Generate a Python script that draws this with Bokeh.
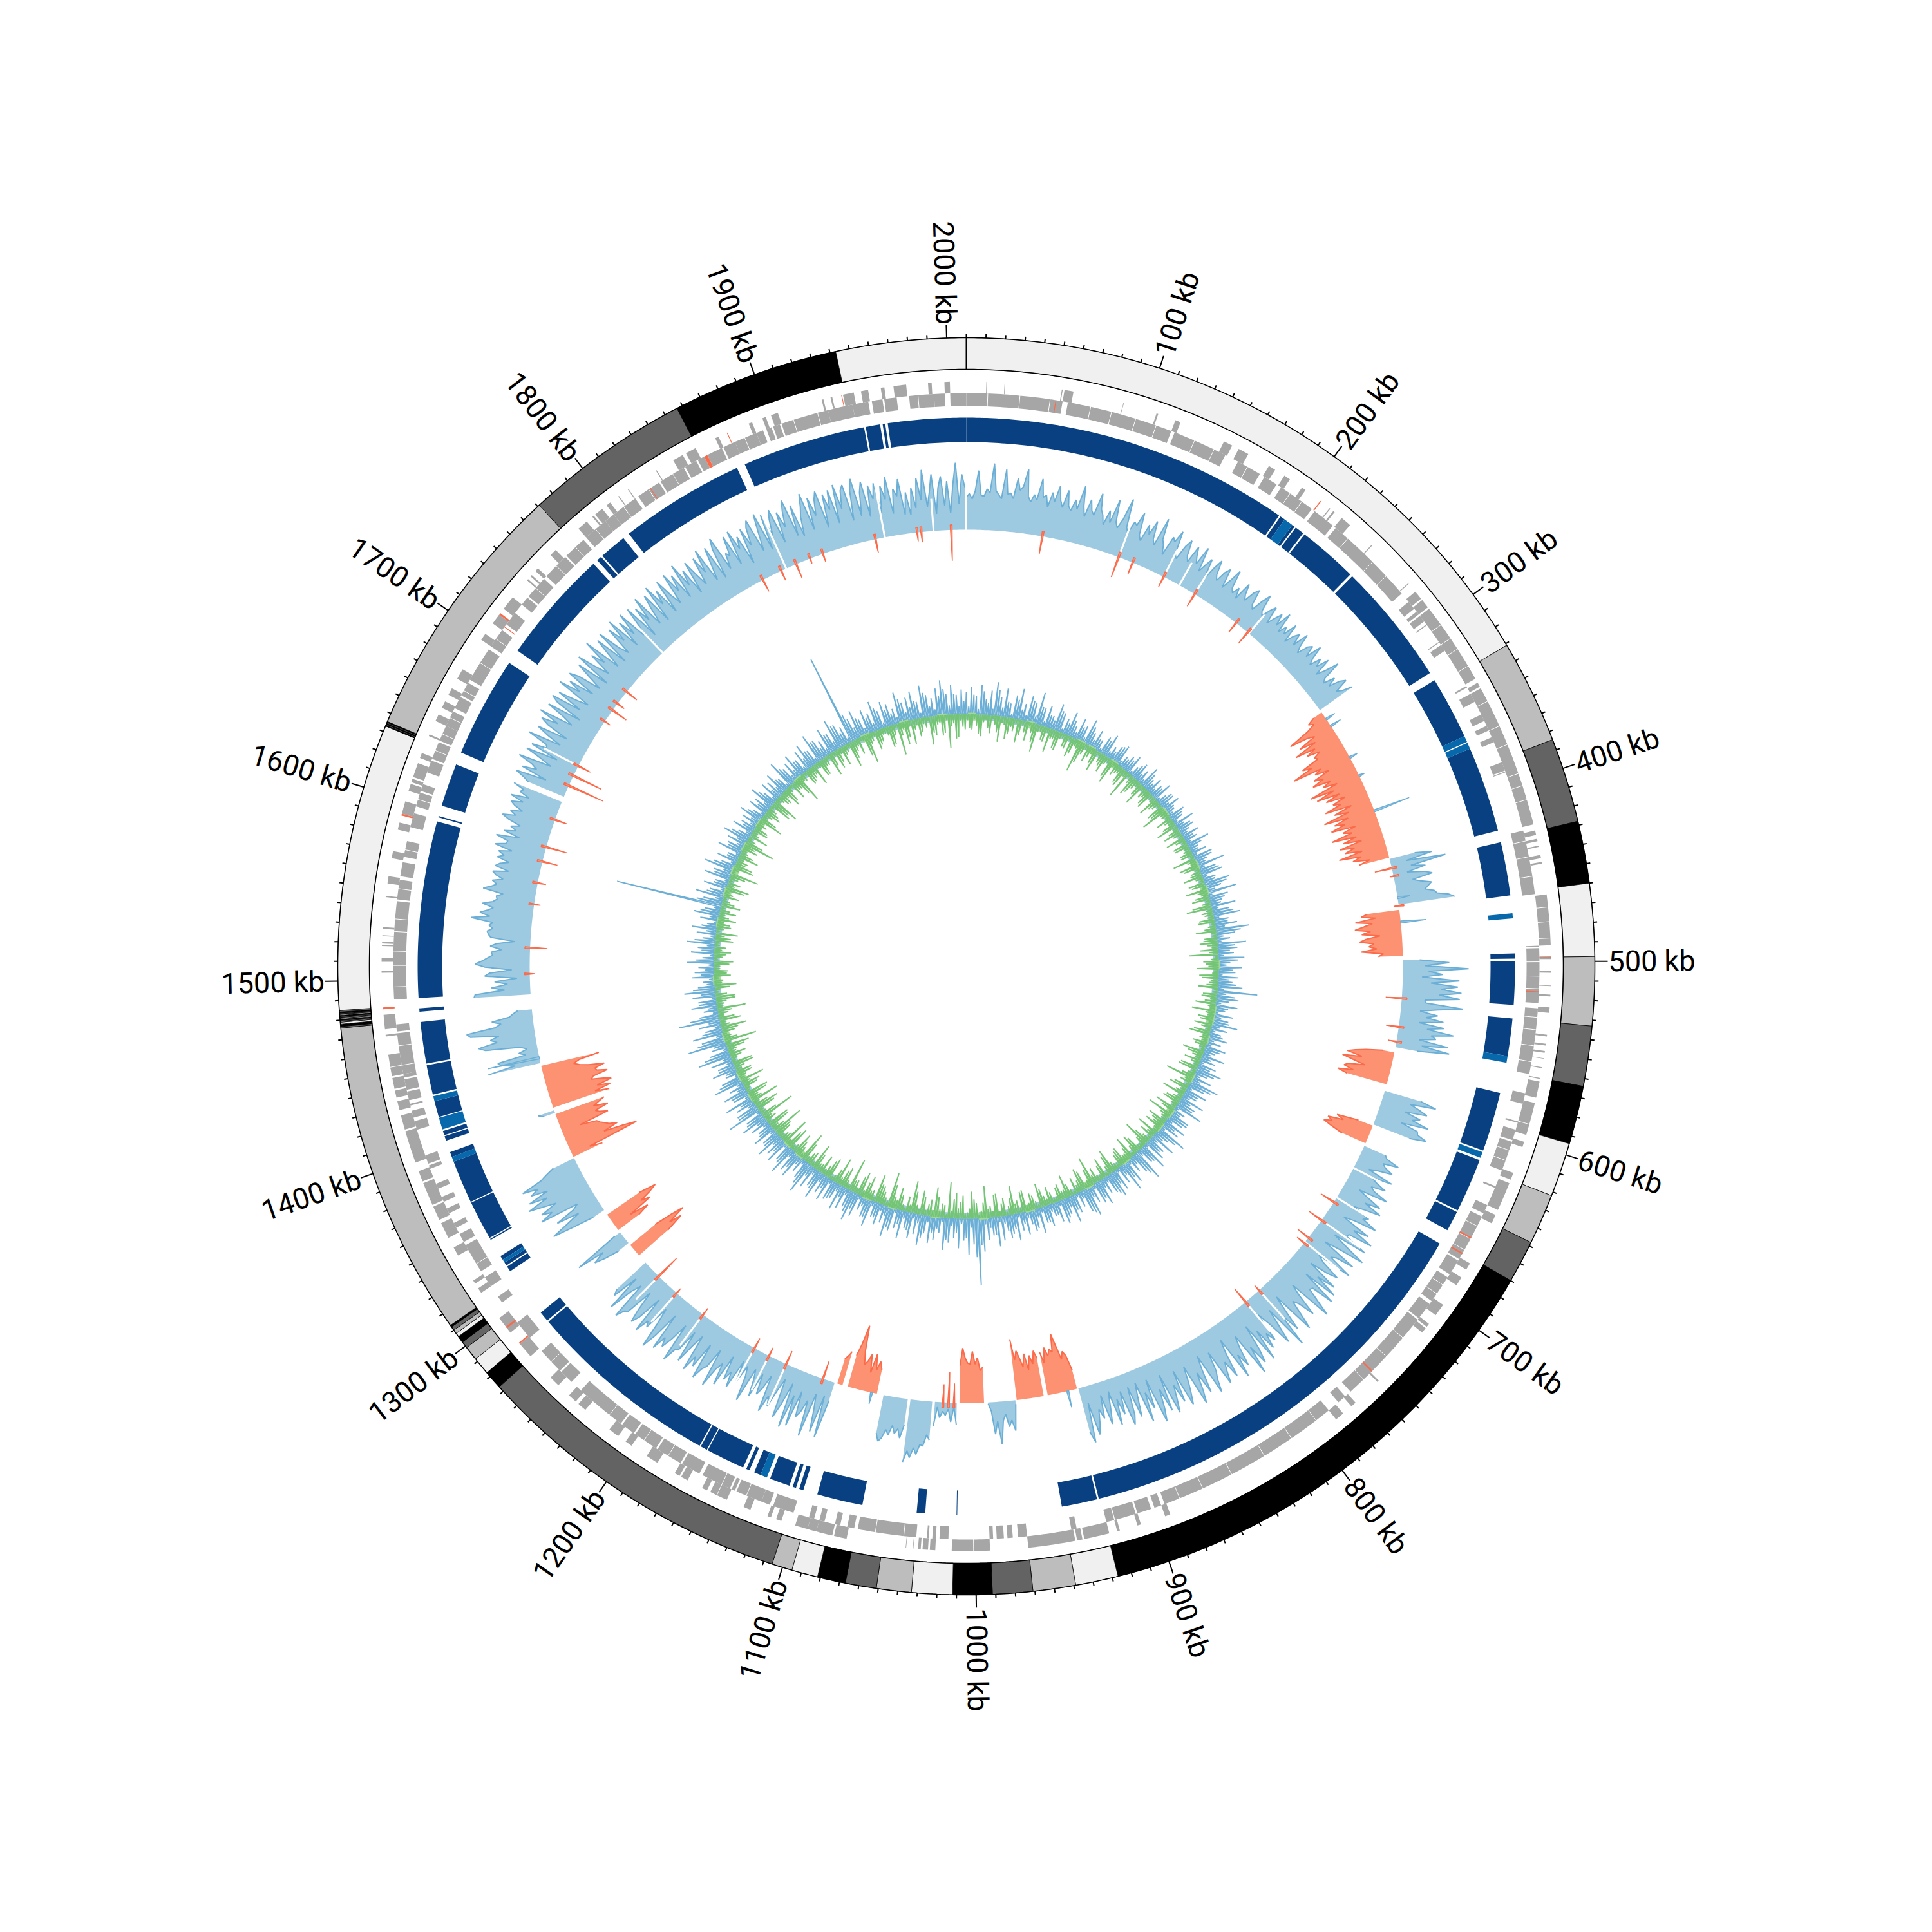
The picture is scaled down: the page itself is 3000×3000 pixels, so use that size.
import math
from bokeh.plotting import figure
from bokeh.models import Range1d
from bokeh.core.properties import value
from bokeh.embed import file_html
from bokeh.resources import INLINE

GENOME_KB = 2010
CX, CY = 1508, 1508

# ---- karyotype bands ----
band_start = [0,331,384.5,428,460,497.5,533,564,594,622,648,670,927,949,971,991.7,1012,1033,1051,1067,1081.5,1095,1105.5,1273,1282.6,1291.6,1299,1302.5,1306,1308,1310,1312,1313,
              1476,1476.8,1478,1479,1479.5,1480,1480.5,1481,1481.5,1482,1482.5,1483,1483.3,1483.7,1484.2,1485,1633,1633.5,1634,1634.5,1635,1635.5,1771,1857,1943]
band_end = band_start[1:] + [2010]
band_color = ["#f0f0f0","#bdbdbd","#636363","#000000","#f0f0f0","#bdbdbd","#636363","#000000","#f0f0f0","#bdbdbd","#636363","#000000","#f0f0f0","#bdbdbd","#636363","#000000","#f0f0f0","#bdbdbd","#636363","#000000","#f0f0f0","#bdbdbd","#636363","#000000","#f0f0f0","#bdbdbd","#636363","#000000","#f0f0f0","#bdbdbd","#636363","#000000","#bdbdbd",
              "#636363","#000000","#f0f0f0","#bdbdbd","#636363","#000000","#f0f0f0","#bdbdbd","#636363","#000000","#f0f0f0","#bdbdbd","#636363","#000000","#636363","#f0f0f0","#000000","#636363","#000000","#636363","#000000","#bdbdbd","#636363","#000000","#f0f0f0"]

# ---- gene tracks ----
gene_in = [(0,54),(57,117),(119,150),(158,172),(175,183),(186,207),(209,222),(224,276),(282,287),(289,291),(292,296),(298,298.6),(310,310.5),(312,316),(339,340),(344,349),(357,361),(364,367),(371,374),(386,391),(391.5,392),(426,462),(491,491.5),(492.3,523),(526,563),(574,580),(590,591),(595,601),(602,619),(628.5,629.5),(640,645),(647,674),(675,684),(686,702),(704,714),(715,770),(774,779),(786,892),(894,898),(900,908),(909,921),(921.5,926),(943,946),(971,976),(979,982),(984,988),(990,992),(1015,1020),(1022,1024),(1026,1027),(1033,1066),(1068,1072),(1076,1079),(1085,1088),(1091,1094),(1103,1115),(1117,1122),(1122,1137),(1138,1140),(1141,1158),(1160,1171),(1172,1187),(1188,1202),(1203,1211),(1212,1241),(1248,1256),(1257,1272),(1282,1293),(1307,1311),(1318,1324),(1328,1345),(1347,1352),(1356,1359),(1365,1368),(1372,1375),(1380,1383),(1392,1394),(1395,1400),(1415,1420),(1422,1426),(1429,1430),(1432,1437),(1438,1444),(1445,1447),(1447,1470),(1471,1475),(1489,1544),(1545,1556),(1558,1566),(1569,1578),(1586,1594),(1598,1606),(1607,1611),(1618,1625),(1626,1636),(1637,1646),(1646,1655),(1657,1664),(1665,1673),(1675,1695),(1697,1708),(1712,1720),(1726,1731),(1732,1745),(1747,1762),(1763,1776),(1778,1792),(1792,1798),(1798,1813),(1815,1829),(1830,1845),(1846,1853),(1854,1858),(1860,1869),(1870,1877),(1877,1890),(1890,1894),(1896,1899),(1900,1904),(1905,1932),(1932,1946),(1946,1955),(1957,1963),(1964,1971),(1978,1992),(1992,1998),(2001,2010)]
gene_out = [(11,11.4),(21,21.3),(54,59),(52.5,53),(87,87.3),(106,107),(117,120),(146,151),(155,161),(174,178),(184,187.6),(195.6,198),(214.4,215),(217,218),(223,229),(245,245.5),(274,274.5),(280,285),(286,291),(292,338),(340.5,343),(344,424),(427.5,430),(432,433.5),(436,436.7),(441,443),(445,446),(463,491),(497,498.5),(505,506),(513,513.3),(518,519),(525,528),(540,541),(545,546),(549,550),(553,553.3),(558,558.5),(564,564.5),(566,575),(578,596),(600,603),(618,622),(624,640),(643,648),(673,677),(682,687),(700,707),(713,715),(716,719),(754.5,755.5),(772,775),(781,786),(891,894),(908,910),(920,921.5),(926,940),(941,944),(945,971),(992,1013),(1022,1025),(1026,1029),(1030,1031.5),(1034,1034.3),(1038,1038.3),(1071,1078),(1079,1088),(1088,1093),(1093,1100),(1108,1111),(1114,1116),(1126,1130),(1140,1150),(1152,1155),(1164,1168),(1169,1172),(1183,1190),(1200,1204),(1209,1215),(1232,1237),(1239,1244),(1252,1258),(1274,1283),(1291,1301),(1318,1321),(1324,1326),(1342,1347),(1353,1362),(1364,1372),(1373,1386),(1387,1393),(1398,1416),(1417,1425),(1428,1433),(1435,1439),(1440,1446),(1447,1452),(1451,1459),(1469,1470),(1473,1481),(1504,1505),(1510,1512),(1518.6,1519.2),(1520,1521),(1524,1524.5),(1528,1529),(1545.5,1546.2),(1553,1557),(1567,1571),(1583,1587),(1592,1599),(1605,1609),(1610,1612),(1613,1621),(1624,1627),(1637,1638),(1646,1650),(1654,1658),(1662,1666),(1672,1678),(1697,1701),(1708,1714),(1718,1726),(1738,1739),(1741,1742),(1745,1747),(1757,1761),(1778,1784),(1788,1789),(1790,1795),(1798,1800.5),(1806,1806.5),(1812.5,1813),(1831,1831.5),(1842,1848),(1850,1856),(1868,1870),(1888,1890),(1896,1898),(1901,1905),(1930,1931),(1935,1936),(1942,1948),(1952,1956),(1963,1965),(1970,1977),(1989,1991),(1998,2001)]
gene_red_in = [(50,50.4),(516.5,517),(660,660.8),(670,670.8),(753,753.8),(1858,1860),(1710,1710.5),(1823,1823.4)]
gene_red_out = [(208,208.6),(497.5,498),(1283,1283.8),(1294,1295),(1484,1485),(1591,1592),(1714,1715),(1875,1875.4),(1941,1941.4)]
gene_white = [12,30,47,70,82,96,108,131,143,164,192,200,233,252,263,303,312,319,330,352,367,378,395,402,410,432,441,452,470,478,487,500,508,515,531,538,547,556,590,607,613,653,661,668,691,697,728,742,760,795,812,830,851,869,883,1001,1040,1056,1131,1146,1180,1196,1220,1264,1333,1452,1463,1496,1508,1516,1527,1534,1551,1573,1602,1631,1641,1651,1668,1686,1702,1738,1755,1770,1785,1805,1822,1838,1883,1912,1926,1983]

# ---- contig ring ----
ring_dark = [(0,194),(195,198),(203.5,205.2),(206,211.5),(212.5,248),(249.5,322),(327,364),(372,422.5),(429.5,461),(495,498),(499.5,525),(533,555),(577,612),(618,650),(651,663),(672,927),(928,949),(1010.3,1010.7),(1029,1034),(1066,1093),(1101.5,1104),(1106,1108),(1110,1122),(1128,1132),(1135,1137),(1139,1162),(1162.6,1166.6),(1167.4,1282),(1283,1289),(1319,1322.3),(1323,1325),(1327,1329.5),(1340.5,1341.2),(1341.8,1365),(1365.6,1391),(1394,1397),(1404,1406.8),(1407.4,1410),(1418.5,1428),(1432,1449.5),(1450.5,1475),(1481,1483),(1489,1593),(1595.5,1596.3),(1602.6,1628),(1635.5,1695),(1703.6,1771),(1774,1777),(1778,1794),(1798,1872),(1877,1950),(1951,1959.5),(1961,1962.5),(1964,2010)]
ring_light = [(198,203.5),(364,367.7),(368.3,372),(471.5,474.5),(555,559),(613,616.5),(1124,1128),(1325,1327),(1391,1394),(1411,1418),(1428,1431)]

# ---- coverage track: heights from the base circle, one sample per 2 kb ----
cov_0 = [50,56,48,60,92,54,52,64,58,104,62,56,50,96,58,60,52,84,66,72,100,58,50,62,54,88,60,64,46,70,56,82,60,50,78,54,48,66,52,90,60,44,72,56,50,86,62,54,40,64,
         46,84,50,42,58,92,48,40,60,56,78,44,36,64,50,74,46,38,84,52,44,30,62,56,76,40,34,58,70,46,38,66,52,42,72,34,48,60,28,50,66,44,36,54,62,32,48,68,40,34,
         46,30,60,44,36,54,62,38,32,52,66,40,34,48,58,30,44,56,38,64,32,46,36,58,28,44,52,34,60,40,30,48,54,36,62,42,32,50,38,58,30,44,66,36,30,48,34,52,60,38,46,62]
red_304 = [15,28,20,36,70,42,30,60,34,72,40,56,36,48,44,74,60,93,48,60,38,66,52,72,44,58,36,83,46,76,40,64,34,56,44,72,30,60,38,80,42,66,50,74,36,58,44,78,40,62,34,70,48,64,38,76,42,56,30,48]
cov_423 = [40,66,24,86,30,52,22,48,60,28,40,56,50,44,58,62,80,88]
red_461 = [50,60,38,70,44,58,72,48,62,34,56,66,44,52,40,64,30,38]
cov_498 = [26,72,34,102,40,62,30,88,44,86,60,92,58,90,36,38,96,58,30,58,40,68,30,70,44,86,52,60,34,80,40,84,34]
red_566 = [18,44,60,72,48,78,60,40,66,72,56,80,64]
cov_595 = [58,84,44,60,74,40,66,54,82,40,68,70,86,60]
red_622 = [24,58,46,70,62,74,60,40]
cov_638 = [36,40,62,38,44,58,36,22,64,32,
           42,60,38,46,70,24,44,66,42,72,
           48,30,60,52,78,44,26,74,50,86,
           48,46,84,30,56,90,52,24,82,54,
           46,86,30,42,74,58,28,80,50,88,
           34,92,56,54,76,100,30,50,84,58,
           48,72,96,26,52,84,50,106,34,62,
           90,50,28,74,58,82,46,96,30,70,
           92,60,104,32,50,80,58,94,24,46,
           84,56,70,88,30,60,72,92,26,50,
           84,48,76,96,30,54,72,88,28,78,
           48,70,90,24,82,44,74,94,22,68,
           40,86,20,44,72,22,66,80,24,60,
           34,74,18,44,68,20,56,40,62,78,
           26,88,70]
red_923 = [30,54,62,50,72,92,64,70,60,74,50,68]
red_948 = [60,72,52,66,44,70,50,64,76,62,95]
cov_969 = [6,47,30,40,20,30,66,30,50,14,2]
red_992 = [55,50,70,60,80,60,62,70,85,58]
cov_1012 = [34,6,30,10,20,14,24,8,38]
cov_1030 = [60,52,70,68,84,74,90,80,98]
cov_1048 = [40,62,48,56,44,60,52,66,72,60]
red_1071 = [38,50,36,60,30,58,46,40,60,100,70,50]
red_1097 = [54,46,40]
cov_1103 = [30,90,24,84,50,26,96,40,60,70,
            30,88,40,94,24,60,84,22,42,72,
            56,84,26,50,62,30,70,44,28,84,
            46,30,60,26,74,50,66,28,80,46,
            58,90,30,62,70,88,32,74,60,86,
            28,50,80,30,66,70,92,30,60,78,
            64,88,28,72,96,56,30,70,62,84,
            26,66,80,58,28,72,76,90,30,46,
            86,28,70,60]
red_1276 = [60,90,70,100,80,50]
cov_1288 = [20,44,60,40,84,10]
red_1300 = [40,60,30,70,56,76,88,60]
cov_1318 = [20,54,88,60,36,72,40,30,92,70,86,58,78,100,66,94,60,86,72,96,62,50,36]
red_1363 = [50,30,112,92,60,84,72,66,60,56,30,78,66,60,82,60,70,80]
cov_1398 = [18,26]
red_1402 = [92,70,96,76,100,88,70,74,98,82,80,96,72,58,50,60,92]
cov_1436 = [83,40,60,65,20,30,16,26,80,90,60,70,56,100,105,60,50,64,36,30,22]
cov_1487 = [88,86,40,60,35,55,20,70,62,28,70,85,74,66,58,60,44,62,52,24,62,66,68,60,66,
            60,95,66,82,70,62,80,64,58,60,50,82,70,62,70,54,66,72,48,70,64,50,70,60,70,50,78,62,60,80,44,70,52,62,48,68,80,60,70,52,66,74,56,78,50,66,62,80]
cov_1635 = [60,70,84,36,78,56,66,90,38,58,
            84,34,80,56,60,92,40,66,84,36,
            72,86,60,94,40,58,88,34,78,90,
            42,84,56,36,92,58,80,40,88,74,
            36,60,84,32,92,62,40,78,56,96,
            36,60,86,32,90,54,38,84,56,92,
            36,80,52,88,40,54,86,28,78,52,
            90,36,62,84,32,92,56,78,34,88,
            58,40,90,56,82,38,94,54,78,34,
            86,60,40,84,56,92,36,60,88,32,
            80,96,40,64,58,88,38,92,60,78,
            30,86,56,84,94,40,70,98,36,92,
            56,80,94,38,86,60,84,100,40,88,
            36,66,80,100,40,90,60,84,96,36,
            88,62,92,38,98,58,86,94,36,82,
            100,40,76,92,36,84,62,86,38,80,
            58,92,34,72,60,86,30,64,28,70,
            38,84,50,96,38,60,88,26,66,84,
            38,76,26,70,104,40,86,66]
cov_zones = [(0,1,cov_0),(304,-1,red_304),(423,1,cov_423),(461,-1,red_461),(498,1,cov_498),(566,-1,red_566),(595,1,cov_595),(622,-1,red_622),(638,1,cov_638),(923,-1,red_923),(948,-1,red_948),(969,1,cov_969),(992,-1,red_992),(1012,1,cov_1012),(1030,1,cov_1030),(1048,1,cov_1048),(1071,-1,red_1071),(1097,-1,red_1097),(1103,1,cov_1103),(1276,-1,red_1276),(1288,1,cov_1288),(1300,-1,red_1300),(1318,1,cov_1318),(1363,-1,red_1363),(1398,1,cov_1398),(1402,-1,red_1402),(1436,1,cov_1436),(1487,1,cov_1487),(1635,1,cov_1635)]

notch_kb  = [0,114,150,163,176,225,656,681,701,721,770,783,1141,1155,1167,1212,1237,1255,1633,1660,1764,1874,1950,1986]
notch_len = [60,50,48,40,40,38,70,70,74,70,60,60,70,60,68,60,60,50,90,60,90,90,90,50]
red_spike_kb = [1999,1974,1977,56,114,125,150,176,213,224,430,436,458,526,547,558,685,701,717,722,770,783,1014,1018,1022,1112,1141,1155,1167,1212,1237,1255,1521,1502,1553,1569,1585,1596,1617,1644,1652,1660,1698,1708,1714,1725,1855,1893,1903,1943,1870,1882]
red_spike_d  = [48,14,16,28,33,20,18,22,18,22,27,6,8,25,20,13,24,24,21,14,10,26,30,48,28,29,22,14,17,12,9,39,27,8,10,13,24,34,19,58,48,21,10,26,13,20,20,8,13,22,16,24]
blue_spike_kb = [310,316,343,358,386,452,470,930,1075,1440]
blue_spike_h  = [16,18,13,9,58,20,40,26,18,82]

# ---- inner tracks: spikes every 3 kb (two interleaved lists) ----
blue_peaks = [34,42,28,46,24,38,52,30,44,22,36,48,26,40,32,50,28,34,20,42,30,24,38,18,34,26,40,22,30,18,28,36,20,26,32,18,24,30,16,28,22,34,18,26,20,30,16,24,28,14,
 26,18,32,22,16,28,20,36,14,24,30,18,44,26,34,20,40,24,46,30,18,38,26,42,22,34,52,28,20,44,30,24,40,18,36,26,30,22,38,62,28,20,34,16,30,24,40,26,18,30,
 22,32,18,36,24,28,40,20,30,46,26,34,22,38,28,44,20,32,26,36,30,48,24,40,28,34,44,26,50,32,24,38,46,28,34,42,30,26,40,34,28,46,36,24,30,42,26,38,32,20,
 34,26,40,30,22,36,28,42,30,24,38,46,28,34,52,104,40,56,34,46,30,38,50,24,36,42,28,48,32,40,26,44,30,36,48,28,34,24,42,30,22,36,46,28,34,40,26,32,38,30,
 44,28,36,50,30,24,40,34,46,28,38,32,42,26,36,22,30,40,28,54,34,30,44,26,38,24,46,30,20,38,26,34,52,30,24,60,36,48,26,34,64,30,22,40,28,36,48,26,18,34,
 30,24,42,18,36,26,44,20,30,38,16,28,40,24,166,30,44,24,36,20,40,28,46,22,32,18,38,26,30,42,20,34,24,28,36,18,30,26,40,22,32,28,36,20,44,26,30,38,24,34,
 40,24,46,32,26,42,30,48,36,28,142,34,44,26,38,30,46,28,40,34,24,48,30,36,44,26,50,34,28,42,54,32,46,30,38]
blue_peaks2 = [12,30,8,36,18,10,40,14,24,6,30,16,9,34,12,28,8,20,14,32,6,18,26,10,22,8,30,12,18,6,24,10,14,28,8,16,20,6,22,12,8,26,14,10,18,6,24,12,16,8,
 20,6,14,26,10,16,8,22,12,6,28,14,10,30,8,18,34,12,6,24,16,10,32,8,20,14,38,10,6,26,18,8,30,12,22,6,16,28,10,14,34,8,20,6,12,26,14,8,22,10,
 8,24,12,16,6,20,30,10,14,36,8,22,12,18,26,6,14,32,10,20,8,34,16,12,24,6,28,10,38,14,8,26,16,6,22,34,10,14,28,8,18,40,12,6,24,16,30,8,20,12,
 26,8,14,34,10,18,6,24,36,12,8,28,16,10,42,60,14,30,8,22,12,34,6,18,26,10,36,14,8,28,12,22,6,32,16,10,24,8,30,14,6,26,34,10,18,12,28,8,20,14,
 30,10,18,38,8,14,26,12,32,6,22,16,28,8,24,10,16,30,6,34,12,20,8,28,14,10,36,6,18,26,10,14,40,8,20,44,12,32,10,18,46,8,14,28,6,22,34,12,8,20,
 14,8,28,6,20,12,32,8,16,24,6,14,30,10,40,12,28,8,22,6,26,14,34,8,18,6,24,12,16,30,8,20,10,14,26,6,18,12,28,8,16,14,22,6,30,10,14,24,8,18,
 26,8,32,16,10,30,14,36,20,8,44,18,30,10,24,12,34,8,26,18,10,36,14,20,28,8,38,16,10,30,40,14,32,12,20]
green_peaks = [10,24,18,34,8,28,14,40,12,26,20,36,8,30,16,44,10,24,38,14,30,8,22,32,12,50,18,26,10,34,16,28,8,38,20,12,30,44,14,26,10,36,18,24,8,32,14,28,42,12,
 26,10,34,18,14,30,8,24,12,20,36,10,24,16,30,8,22,34,12,28,14,40,18,10,26,12,32,8,22,16,28,46,12,20,34,10,26,14,30,8,24,18,12,36,10,20,28,8,32,14,
 22,10,34,16,26,8,30,12,44,18,24,10,36,14,28,8,22,40,12,30,18,10,34,24,14,42,8,26,16,36,12,28,20,10,38,14,32,8,24,46,12,30,18,26,10,36,14,22,8,28,
 16,38,12,26,10,32,20,44,14,28,8,34,18,50,12,24,42,10,36,16,30,56,20,12,46,26,8,38,14,50,24,10,34,18,54,12,28,44,16,36,10,30,20,52,14,26,42,10,34,18,
 30,12,40,22,10,46,16,34,8,28,44,14,24,50,12,36,18,54,10,30,22,44,14,34,8,28,38,12,24,16,32,10,26,14,36,50,12,20,40,10,24,16,44,12,30,18,8,34,14,26,
 22,10,30,14,26,18,8,24,34,12,20,28,10,16,30,12,24,8,36,20,14,44,10,28,18,32,12,24,48,14,30,10,22,16,38,8,26,14,34,42,12,20,30,10,28,16,44,12,24,18,
 34,10,26,14,36,8,22,30,12,40,18,26,8,46,14,30,20,10,34,16,50,12,26,38,10,22,16,44,30,12,28,52,14,36,20]
green_peaks2 = [22,8,30,12,20,6,26,10,34,14,8,24,18,6,30,12,22,8,16,28,10,20,6,26,14,34,8,18,24,6,20,12,30,8,14,26,10,6,32,16,22,8,14,28,10,18,6,24,12,8,
 14,22,8,28,6,16,24,10,20,6,14,30,8,18,12,26,6,16,22,8,30,10,14,24,6,18,8,20,28,10,14,6,24,16,8,30,12,18,6,22,10,32,8,14,24,6,16,26,10,8,
 18,6,24,10,14,28,8,20,12,6,30,16,8,24,12,34,6,18,10,22,28,8,14,6,26,18,10,32,6,20,12,24,8,16,30,6,22,10,14,28,8,36,12,6,20,14,26,8,18,10,
 28,6,22,12,34,8,16,26,6,20,36,10,14,24,6,30,16,8,26,40,12,6,22,32,10,18,28,8,34,12,6,24,14,36,8,20,30,6,14,24,38,10,18,8,32,12,22,6,28,10,
 14,26,8,18,30,6,24,12,36,10,16,8,28,20,34,6,14,26,8,38,10,18,30,6,22,14,8,24,10,32,6,18,12,28,8,20,6,26,14,34,8,22,10,16,30,6,24,12,8,20,
 10,24,6,18,12,8,28,14,6,22,10,16,26,8,20,6,14,30,12,8,24,6,32,16,10,22,8,18,28,6,14,24,10,8,26,14,20,6,30,8,18,12,24,6,16,28,10,6,22,14,
 8,26,14,6,22,30,10,16,8,28,12,6,34,18,8,24,10,14,30,6,20,36,8,16,28,10,6,26,14,32,8,18,38,10,24]
green_band = [(2,12),(78,88),(146,158),(162,172),(195,207),(285,297),(364,376),(398,410),(494,506),(553,565),(566,578),(591,603),(643,655),(696,708),(718,730),(779,791),(836,848),(917,929),(977,989),(1039,1051),(1094,1106),(1129,1141),(1231,1243),(1251,1263),(1327,1339),(1357,1369),(1410,1422),(1484,1496),(1558,1570),(1597,1609),(1627,1639),(1660,1672),(1695,1707),(1770,1782),(1872,1884),(1924,1936),(1973,1985)]

tick_labels = [f"{k} kb" for k in range(100, 2001, 100)]

def pol(kb, r):
    t = math.radians(kb / GENOME_KB * 360)
    return CX + r * math.sin(t), CY - r * math.cos(t)

def arc(k0, k1, r0, r1):
    n = max(2, int(abs(k1 - k0) / 2) + 2)
    ks = [k0 + (k1 - k0) * i / (n - 1) for i in range(n)]
    o = [pol(k, r1) for k in ks]
    i = [pol(k, r0) for k in reversed(ks)]
    return [p[0] for p in o + i], [p[1] for p in o + i]

p = figure(width=2984, height=2984, x_range=Range1d(8, 2992), y_range=Range1d(2992, 8),
           output_backend="svg", toolbar_location=None, min_border=0, outline_line_color=None)
p.xaxis.visible = False
p.yaxis.visible = False
p.grid.visible = False

def draw_arcs(items, r0, r1, color):
    xs, ys = [], []
    for a, b in items:
        x, y = arc(a, b, r0, r1)
        xs.append(x); ys.append(y)
    p.patches(xs, ys, fill_color=color, line_color=None)

# karyotype
xs, ys = zip(*[arc(a, b, 927, 976) for a, b in zip(band_start, band_end)])
p.patches(list(xs), list(ys), fill_color=band_color, line_color="#000000", line_width=0.8)
for r in (927, 976):
    c = [pol(k, r) for k in range(0, 2011, 2)]
    p.line([q[0] for q in c], [q[1] for q in c], line_color="#000000", line_width=1.5)
a0, a1 = pol(0, 927), pol(0, 976)
p.line([a0[0], a1[0]], [a0[1], a1[1]], line_color="#000000", line_width=2)

# ticks
tx, ty = [], []
for k in range(10, 2011, 10):
    L = 20 if (k % 100 == 0 and k < 2010) else 6
    a, b = pol(k, 976), pol(k, 976 + L)
    tx.append([a[0], b[0]]); ty.append([a[1], b[1]])
p.multi_line(tx, ty, line_color="#000000", line_width=2)

# labels
for k, lab in zip(range(100, 2001, 100), tick_labels):
    th = k / GENOME_KB * 360
    x, y = pol(k, 997)
    right = th <= 180
    ang = math.radians(90 - th) if right else math.radians(270 - th)
    p.text([x], [y], text=[lab], angle=ang, text_align="left" if right else "right",
           text_baseline="middle", text_font=value("Roboto"),
           text_font_size="45px", text_color="#000000")

# gene tracks
draw_arcs(gene_in, 870, 890, "#a6a6a6")
draw_arcs(gene_out, 890, 908, "#a6a6a6")
wx, wy = [], []
for k in gene_white:
    a, b = pol(k, 869), pol(k, 909)
    wx.append([a[0], b[0]]); wy.append([a[1], b[1]])
p.multi_line(wx, wy, line_color="#ffffff", line_width=1)
draw_arcs(gene_red_in, 870, 890, "#fb6a4a")
draw_arcs(gene_red_out, 890, 908, "#fb6a4a")

# contig ring
draw_arcs(ring_dark, 814, 852, "#084081")
draw_arcs(ring_light, 814, 852, "#0868ac")

# coverage
BASE = 678
for start, sign, vals in cov_zones:
    pts = [pol(start + i * 2, BASE + sign * v) for i, v in enumerate(vals)]
    end = start + (len(vals) - 1) * 2
    bs = [pol(start + (end - start) * j / max(1, (end - start) // 2), BASE) for j in range(max(1, (end - start) // 2) + 1)]
    poly = pts + bs[::-1]
    fill, line = ("#9ecae1", "#6baed6") if sign > 0 else ("#fc9272", "#fb6a4a")
    p.patch([q[0] for q in poly], [q[1] for q in poly], fill_color=fill, line_color=None)
    p.line([q[0] for q in pts], [q[1] for q in pts], line_color=line, line_width=2, line_join="bevel")

nx, ny = [], []
for k, L in zip(notch_kb, notch_len):
    a, b = pol(k, BASE - 1), pol(k, BASE + L)
    nx.append([a[0], b[0]]); ny.append([a[1], b[1]])
p.multi_line(nx, ny, line_color="#ffffff", line_width=3)

def spike(k, r_tip, r_base, fill, line, half=1.0):
    a, b, c = pol(k - half, r_base), pol(k, r_tip), pol(k + half, r_base)
    p.patch([a[0], b[0], c[0]], [a[1], b[1], c[1]], fill_color=fill, line_color=line, line_width=1.5)

for k, d in zip(blue_spike_kb, blue_spike_h):
    spike(k, BASE + d, BASE, "#9ecae1", "#6baed6", 0.8)
for k, d in zip(red_spike_kb, red_spike_d):
    spike(k, BASE - d, BASE + 8, "#fc9272", "#fb6a4a", 0.7)

# inner tracks
INNER = 392
draw_arcs([(0, 2010)], 383, 394, "#9ecae1")
def spikes(kbs, heights, sign, line):
    xs, ys = [], []
    for k, h in zip(kbs, heights):
        a, b, c = pol(k - 1, INNER), pol(k, INNER + sign * h), pol(k + 1, INNER)
        xs.append([a[0], b[0], c[0]]); ys.append([a[1], b[1], c[1]])
    p.multi_line(xs, ys, line_color=line, line_width=1.8, line_join="bevel")
spikes([i * 6 for i in range(len(blue_peaks))], blue_peaks, 1, "#6baed6")
spikes([i * 6 + 3 for i in range(len(blue_peaks2))], blue_peaks2, 1, "#6baed6")
draw_arcs(green_band, 382, 394, "#a1d99b")
spikes([i * 6 + 1.5 for i in range(len(green_peaks))], green_peaks, -1, "#74c476")
spikes([i * 6 + 4.5 for i in range(len(green_peaks2))], green_peaks2, -1, "#74c476")

open("out.html", "w").write(file_html(p, INLINE))
